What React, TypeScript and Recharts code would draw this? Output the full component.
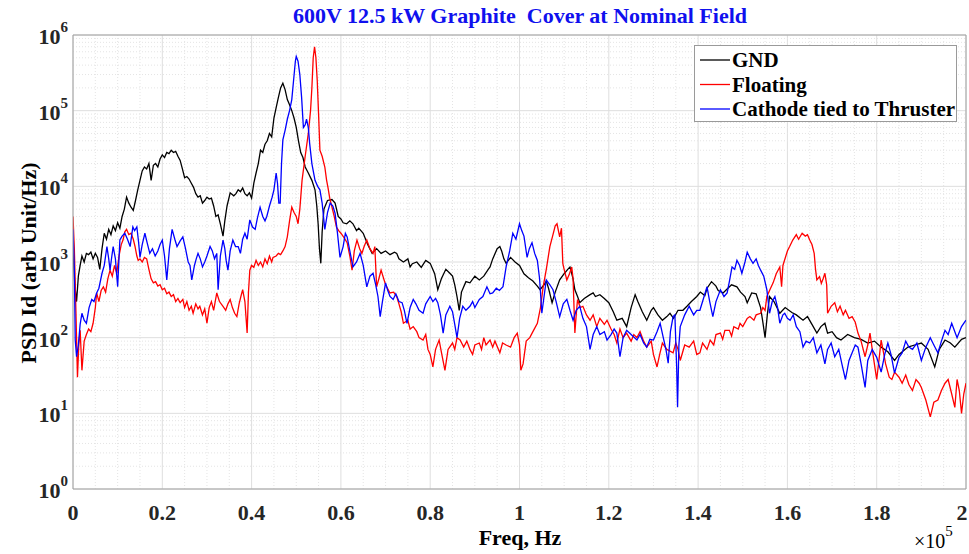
import {
  LineChart,
  Line,
  XAxis,
  YAxis,
  CartesianGrid,
  ReferenceLine,
  Legend,
} from "recharts";

// freq in units of 1e5 Hz, PSD in arb units
const gnd: [number, number][] = [
  [0, 1500], [0.004, 500], [0.008, 300], [0.012, 650], [0.016, 900], [0.02, 1200], [0.025, 1000], [0.03, 1300],
  [0.035, 1250], [0.04, 1350], [0.045, 1100], [0.05, 1300], [0.055, 1150], [0.06, 800], [0.065, 1500], [0.07, 2400],
  [0.075, 2000], [0.08, 2700], [0.085, 2300], [0.09, 3000], [0.095, 2600], [0.1, 3300], [0.105, 2800], [0.11, 4000],
  [0.115, 5000], [0.12, 7200], [0.125, 6000], [0.13, 5300], [0.135, 4800], [0.14, 6500], [0.145, 9000], [0.15, 12000],
  [0.155, 16000], [0.16, 18000], [0.165, 17000], [0.17, 20000], [0.175, 12000], [0.18, 19000], [0.185, 20000],
  [0.19, 18000], [0.195, 23000], [0.2, 26000], [0.205, 24000], [0.21, 28000], [0.215, 27000], [0.22, 30000],
  [0.225, 28000], [0.23, 29000], [0.235, 25000], [0.24, 22000], [0.245, 17000], [0.25, 13000], [0.255, 13500],
  [0.26, 12500], [0.265, 11000], [0.27, 9700], [0.275, 8000], [0.28, 7200], [0.285, 7500], [0.29, 6000], [0.295, 6500],
  [0.3, 7200], [0.305, 6800], [0.31, 7000], [0.315, 5500], [0.32, 4000], [0.325, 4200], [0.33, 3200], [0.336, 2200],
  [0.34, 3500], [0.345, 5500], [0.352, 8200], [0.36, 7500], [0.365, 8000], [0.37, 9000], [0.375, 8500], [0.38, 9500],
  [0.385, 8000], [0.39, 7500], [0.395, 8200], [0.4, 7000], [0.405, 11000], [0.41, 15000], [0.415, 20000],
  [0.42, 30000], [0.425, 28000], [0.43, 36000], [0.435, 40000], [0.44, 50000], [0.445, 45000], [0.45, 80000],
  [0.455, 110000], [0.46, 150000], [0.465, 200000], [0.47, 230000], [0.475, 190000], [0.48, 140000], [0.485, 120000],
  [0.49, 100000], [0.495, 80000], [0.5, 60000], [0.505, 40000], [0.51, 28000], [0.515, 24000], [0.52, 18000],
  [0.527, 15000], [0.535, 12000], [0.542, 9000], [0.546, 5500], [0.549, 3200], [0.552, 1500], [0.555, 960],
  [0.558, 2500], [0.562, 5000], [0.57, 6500], [0.58, 6700], [0.587, 6000], [0.594, 4000], [0.6, 3700], [0.605, 3300],
  [0.613, 3200], [0.62, 3500], [0.627, 3200], [0.635, 2600], [0.64, 2800], [0.65, 2400], [0.66, 1700], [0.67, 1300],
  [0.68, 1500], [0.69, 1300], [0.7, 1400], [0.71, 1250], [0.72, 1350], [0.725, 1300], [0.73, 1100], [0.74, 1000],
  [0.75, 1100], [0.755, 860], [0.76, 950], [0.77, 1000], [0.78, 850], [0.79, 1050], [0.8, 960], [0.81, 700],
  [0.817, 430], [0.825, 600], [0.835, 800], [0.844, 710], [0.85, 650], [0.855, 500], [0.86, 350], [0.865, 230],
  [0.87, 400], [0.88, 550], [0.889, 530], [0.9, 650], [0.91, 580], [0.92, 650], [0.93, 800], [0.934, 860],
  [0.94, 1100], [0.95, 1500], [0.956, 1600], [0.96, 1400], [0.965, 1100], [0.97, 960], [0.98, 1150], [0.99, 1000],
  [1.0, 900], [1.01, 700], [1.02, 620], [1.03, 560], [1.04, 480], [1.046, 430], [1.055, 500], [1.06, 560],
  [1.065, 450], [1.073, 290], [1.08, 400], [1.09, 580], [1.1, 700], [1.108, 800], [1.113, 860], [1.12, 600],
  [1.124, 430], [1.13, 350], [1.135, 290], [1.145, 330], [1.158, 370], [1.165, 390], [1.17, 350], [1.18, 370],
  [1.19, 330], [1.2, 290], [1.21, 220], [1.218, 170], [1.23, 180], [1.24, 140], [1.25, 250], [1.259, 370],
  [1.265, 300], [1.275, 220], [1.285, 170], [1.295, 230], [1.3, 250], [1.31, 200], [1.32, 170], [1.33, 190],
  [1.337, 210], [1.345, 180], [1.355, 230], [1.366, 230], [1.375, 260], [1.385, 300], [1.397, 350], [1.405, 400],
  [1.415, 360], [1.42, 450], [1.43, 550], [1.44, 480], [1.445, 420], [1.456, 390], [1.465, 440], [1.475, 500],
  [1.487, 470], [1.495, 400], [1.505, 350], [1.51, 290], [1.52, 390], [1.53, 380], [1.54, 250], [1.545, 160],
  [1.55, 100], [1.555, 200], [1.56, 350], [1.57, 300], [1.583, 210], [1.595, 250], [1.61, 215], [1.62, 200],
  [1.635, 170], [1.645, 190], [1.655, 150], [1.666, 115], [1.675, 140], [1.684, 155], [1.69, 115], [1.7, 120],
  [1.71, 100], [1.72, 93], [1.735, 110], [1.75, 100], [1.765, 95], [1.78, 85], [1.795, 90], [1.81, 75], [1.825, 65],
  [1.84, 50], [1.85, 60], [1.87, 75], [1.885, 80], [1.9, 85], [1.915, 70], [1.93, 41], [1.94, 70], [1.953, 93],
  [1.965, 85], [1.975, 75], [1.99, 95], [2.0, 100],
];

const floating: [number, number][] = [
  [0, 4000], [0.003, 1500], [0.006, 300], [0.01, 30], [0.013, 80], [0.016, 125], [0.02, 37], [0.025, 90], [0.03, 110],
  [0.035, 130], [0.04, 120], [0.045, 155], [0.05, 250], [0.053, 390], [0.058, 300], [0.063, 420], [0.068, 470],
  [0.073, 400], [0.078, 600], [0.083, 780], [0.088, 650], [0.093, 900], [0.098, 710], [0.103, 1200], [0.108, 1700],
  [0.112, 1950], [0.116, 2500], [0.12, 2700], [0.125, 2300], [0.13, 2400], [0.135, 2000], [0.139, 1600],
  [0.143, 1200], [0.146, 1050], [0.15, 1100], [0.155, 1000], [0.16, 1150], [0.165, 1100], [0.17, 800], [0.175, 600],
  [0.18, 530], [0.185, 550], [0.19, 480], [0.195, 500], [0.2, 430], [0.205, 450], [0.21, 380], [0.215, 400],
  [0.22, 350], [0.225, 370], [0.23, 300], [0.235, 330], [0.24, 290], [0.246, 320], [0.25, 250], [0.255, 300],
  [0.26, 230], [0.265, 260], [0.269, 210], [0.275, 280], [0.28, 240], [0.284, 260], [0.29, 200], [0.295, 240],
  [0.3, 155], [0.305, 250], [0.31, 300], [0.315, 230], [0.322, 390], [0.328, 300], [0.336, 260], [0.342, 230],
  [0.347, 280], [0.352, 320], [0.357, 250], [0.362, 210], [0.367, 190], [0.372, 280], [0.376, 350], [0.38, 430],
  [0.385, 300], [0.39, 115], [0.393, 400], [0.396, 780], [0.4, 900], [0.405, 850], [0.41, 1050], [0.415, 900],
  [0.42, 1000], [0.425, 860], [0.43, 1100], [0.435, 950], [0.44, 1200], [0.445, 1000], [0.448, 1150], [0.455, 1200],
  [0.46, 1300], [0.465, 1250], [0.47, 1400], [0.475, 1600], [0.48, 2150], [0.485, 3500], [0.49, 5300], [0.495, 4500],
  [0.5, 4000], [0.504, 3200], [0.508, 5000], [0.513, 12000], [0.52, 25000], [0.527, 50000], [0.532, 100000],
  [0.535, 200000], [0.538, 500000], [0.541, 700000], [0.544, 500000], [0.547, 250000], [0.55, 90000], [0.553, 30000],
  [0.558, 25000], [0.564, 18000], [0.568, 12000], [0.571, 9700], [0.575, 7000], [0.58, 5300], [0.585, 4000],
  [0.59, 2900], [0.595, 2600], [0.6, 2400], [0.607, 2100], [0.614, 1800], [0.62, 1200], [0.625, 780], [0.63, 1400],
  [0.636, 1950], [0.642, 1500], [0.647, 1300], [0.652, 1600], [0.658, 1950], [0.665, 1500], [0.672, 1300],
  [0.676, 1600], [0.68, 470], [0.685, 600], [0.69, 780], [0.7, 500], [0.71, 390], [0.718, 400], [0.725, 350],
  [0.73, 280], [0.735, 220], [0.74, 155], [0.75, 170], [0.755, 130], [0.762, 140], [0.77, 120], [0.775, 100],
  [0.784, 93], [0.79, 110], [0.795, 70], [0.8, 60], [0.806, 41], [0.812, 70], [0.82, 93], [0.826, 60], [0.833, 37],
  [0.84, 70], [0.85, 85], [0.855, 70], [0.86, 100], [0.867, 93], [0.875, 75], [0.882, 90], [0.889, 70], [0.895, 60],
  [0.9, 80], [0.91, 85], [0.915, 70], [0.92, 100], [0.925, 80], [0.934, 93], [0.94, 75], [0.945, 90], [0.956, 63],
  [0.962, 85], [0.97, 80], [0.98, 75], [0.988, 100], [0.995, 115], [1.0, 80], [1.003, 37], [1.008, 45], [1.015, 90],
  [1.023, 100], [1.03, 120], [1.04, 155], [1.047, 250], [1.053, 470], [1.06, 800], [1.068, 1600], [1.075, 2300],
  [1.08, 3000], [1.084, 3200], [1.09, 2150], [1.094, 2800], [1.097, 960], [1.1, 800], [1.106, 580], [1.112, 700],
  [1.117, 860], [1.12, 600], [1.124, 115], [1.127, 200], [1.13, 320], [1.136, 250], [1.142, 260], [1.15, 200],
  [1.158, 170], [1.165, 200], [1.173, 140], [1.18, 180], [1.19, 150], [1.196, 170], [1.205, 130], [1.212, 110],
  [1.218, 85], [1.225, 130], [1.232, 100], [1.24, 115], [1.25, 90], [1.256, 110], [1.263, 100], [1.27, 120],
  [1.278, 90], [1.285, 75], [1.295, 90], [1.3, 60], [1.308, 41], [1.314, 60], [1.32, 85], [1.33, 70], [1.344, 63],
  [1.35, 85], [1.355, 70], [1.36, 50], [1.37, 80], [1.38, 75], [1.39, 90], [1.397, 60], [1.404, 63], [1.41, 85],
  [1.42, 70], [1.427, 93], [1.435, 80], [1.44, 110], [1.45, 115], [1.455, 95], [1.46, 125], [1.47, 125],
  [1.475, 105], [1.48, 140], [1.49, 130], [1.494, 155], [1.5, 140], [1.51, 180], [1.516, 190], [1.525, 170],
  [1.53, 200], [1.54, 210], [1.545, 250], [1.55, 230], [1.554, 350], [1.56, 420], [1.568, 530], [1.575, 700],
  [1.583, 860], [1.587, 470], [1.59, 900], [1.6, 1400], [1.605, 1600], [1.612, 1950], [1.62, 2300], [1.625, 2000],
  [1.633, 2400], [1.64, 2200], [1.645, 2300], [1.65, 1950], [1.655, 1700], [1.66, 1300], [1.663, 800], [1.666, 580],
  [1.672, 640], [1.676, 520], [1.68, 600], [1.684, 710], [1.688, 500], [1.69, 210], [1.698, 260], [1.706, 290],
  [1.712, 220], [1.718, 260], [1.725, 200], [1.73, 230], [1.738, 180], [1.745, 190], [1.752, 160], [1.758, 115],
  [1.765, 90], [1.774, 56], [1.78, 80], [1.785, 115], [1.79, 70], [1.8, 28], [1.805, 50], [1.81, 93], [1.82, 45],
  [1.828, 30], [1.834, 28], [1.84, 35], [1.85, 30], [1.857, 25], [1.865, 32], [1.872, 24], [1.88, 20], [1.888, 28],
  [1.895, 25], [1.9, 22], [1.91, 15], [1.92, 9], [1.928, 14], [1.937, 15], [1.945, 20], [1.953, 25], [1.96, 28],
  [1.968, 18], [1.975, 12], [1.98, 28], [1.985, 20], [1.99, 10], [1.995, 18], [2.0, 25],
];

const cathode: [number, number][] = [
  [0, 2700], [0.003, 800], [0.005, 93], [0.008, 56], [0.012, 80], [0.016, 150], [0.02, 210], [0.025, 170],
  [0.03, 155], [0.036, 250], [0.042, 320], [0.047, 300], [0.053, 390], [0.058, 450], [0.065, 710], [0.07, 900],
  [0.076, 1600], [0.08, 1100], [0.083, 780], [0.087, 1200], [0.09, 1600], [0.095, 1100], [0.1, 470], [0.105, 1950],
  [0.11, 2200], [0.116, 2400], [0.122, 2000], [0.128, 1600], [0.134, 2900], [0.138, 2600], [0.143, 2900],
  [0.147, 1800], [0.15, 1150], [0.155, 1700], [0.161, 2400], [0.166, 1800], [0.172, 1300], [0.178, 1500],
  [0.184, 1200], [0.19, 1400], [0.195, 1700], [0.2, 1950], [0.205, 1200], [0.21, 580], [0.216, 1500], [0.222, 2700],
  [0.228, 2000], [0.233, 1600], [0.24, 1900], [0.246, 2150], [0.252, 1500], [0.258, 1000], [0.262, 900],
  [0.266, 580], [0.272, 900], [0.276, 1100], [0.28, 1300], [0.285, 1100], [0.29, 860], [0.295, 1000], [0.3, 1200],
  [0.307, 1600], [0.312, 1400], [0.317, 1100], [0.322, 1300], [0.325, 430], [0.33, 1200], [0.336, 1950],
  [0.34, 1500], [0.343, 1050], [0.347, 780], [0.352, 1400], [0.358, 1950], [0.364, 1600], [0.37, 1600],
  [0.375, 1300], [0.38, 2000], [0.385, 2400], [0.39, 2000], [0.396, 3600], [0.402, 2900], [0.408, 2700],
  [0.413, 3800], [0.419, 5300], [0.425, 4000], [0.43, 3500], [0.434, 4000], [0.44, 5500], [0.446, 7200],
  [0.45, 9000], [0.455, 15000], [0.458, 11000], [0.461, 6000], [0.464, 6000], [0.467, 20000], [0.47, 41000],
  [0.475, 55000], [0.48, 77000], [0.485, 100000], [0.49, 140000], [0.494, 250000], [0.498, 450000], [0.5, 520000],
  [0.504, 450000], [0.508, 300000], [0.512, 150000], [0.516, 60000], [0.52, 65000], [0.523, 77000], [0.527, 60000],
  [0.53, 37000], [0.535, 20000], [0.542, 12000], [0.548, 10000], [0.553, 9000], [0.558, 6000], [0.564, 2700],
  [0.57, 4500], [0.576, 6000], [0.582, 5500], [0.587, 4400], [0.592, 2500], [0.598, 1150], [0.605, 1600],
  [0.61, 2400], [0.614, 2150], [0.62, 1400], [0.627, 860], [0.635, 1000], [0.643, 1300], [0.65, 900], [0.658, 470],
  [0.665, 650], [0.672, 710], [0.678, 500], [0.683, 350], [0.688, 190], [0.693, 300], [0.7, 530], [0.705, 420],
  [0.71, 350], [0.717, 320], [0.723, 380], [0.73, 300], [0.737, 290], [0.742, 230], [0.748, 155], [0.755, 250],
  [0.762, 320], [0.768, 280], [0.775, 230], [0.784, 210], [0.79, 280], [0.8, 350], [0.806, 300], [0.812, 330],
  [0.817, 290], [0.823, 200], [0.829, 115], [0.835, 200], [0.844, 260], [0.85, 220], [0.855, 150], [0.86, 100],
  [0.866, 180], [0.873, 260], [0.88, 230], [0.889, 260], [0.895, 300], [0.9, 250], [0.91, 320], [0.918, 350],
  [0.927, 470], [0.934, 380], [0.94, 390], [0.948, 450], [0.955, 420], [0.963, 470], [0.97, 860], [0.978, 1400],
  [0.985, 2400], [0.992, 2000], [1.0, 3200], [1.005, 2600], [1.01, 2200], [1.017, 1150], [1.022, 1500],
  [1.028, 1800], [1.034, 1300], [1.04, 1050], [1.045, 600], [1.05, 210], [1.055, 350], [1.06, 580], [1.068, 500],
  [1.075, 430], [1.082, 300], [1.09, 190], [1.098, 280], [1.106, 320], [1.113, 230], [1.12, 170], [1.127, 230],
  [1.135, 260], [1.142, 180], [1.15, 140], [1.158, 70], [1.165, 110], [1.173, 140], [1.18, 110], [1.19, 120],
  [1.196, 93], [1.205, 110], [1.212, 130], [1.218, 115], [1.225, 56], [1.232, 100], [1.24, 125], [1.25, 110],
  [1.263, 93], [1.27, 110], [1.278, 85], [1.285, 75], [1.292, 95], [1.3, 93], [1.308, 120], [1.315, 155],
  [1.322, 100], [1.328, 70], [1.333, 46], [1.338, 120], [1.344, 190], [1.348, 200], [1.352, 40], [1.354, 12],
  [1.357, 80], [1.36, 140], [1.37, 200], [1.38, 260], [1.39, 200], [1.397, 230], [1.404, 230], [1.41, 300],
  [1.42, 470], [1.426, 300], [1.433, 190], [1.44, 300], [1.45, 430], [1.458, 350], [1.465, 390], [1.47, 550],
  [1.476, 860], [1.482, 800], [1.487, 1050], [1.493, 900], [1.498, 710], [1.505, 1000], [1.51, 1350],
  [1.517, 1100], [1.523, 960], [1.53, 1100], [1.535, 900], [1.54, 780], [1.547, 650], [1.554, 430], [1.56, 210],
  [1.566, 300], [1.572, 350], [1.578, 250], [1.583, 155], [1.59, 200], [1.594, 210], [1.6, 180], [1.606, 170],
  [1.613, 200], [1.62, 140], [1.628, 120], [1.635, 75], [1.642, 90], [1.65, 85], [1.658, 100], [1.666, 63],
  [1.675, 80], [1.684, 45], [1.69, 70], [1.698, 85], [1.706, 56], [1.715, 70], [1.722, 45], [1.73, 28], [1.738, 50],
  [1.745, 63], [1.752, 80], [1.758, 75], [1.765, 45], [1.774, 22], [1.78, 50], [1.79, 70], [1.8, 55], [1.81, 35],
  [1.818, 60], [1.825, 85], [1.832, 60], [1.84, 34], [1.85, 55], [1.857, 63], [1.865, 90], [1.872, 75], [1.88, 70],
  [1.89, 85], [1.9, 50], [1.91, 75], [1.92, 100], [1.928, 80], [1.937, 63], [1.945, 90], [1.953, 125], [1.96, 110],
  [1.968, 155], [1.975, 120], [1.98, 100], [1.99, 140], [2.0, 170],
];

const xTicks = [0, 0.2, 0.4, 0.6, 0.8, 1, 1.2, 1.4, 1.6, 1.8, 2];
const xMinor = [0.05, 0.1, 0.15, 0.25, 0.3, 0.35, 0.45, 0.5, 0.55, 0.65, 0.7, 0.75, 0.85, 0.9, 0.95,
  1.05, 1.1, 1.15, 1.25, 1.3, 1.35, 1.45, 1.5, 1.55, 1.65, 1.7, 1.75, 1.85, 1.9, 1.95];
const yTicks = [1, 10, 100, 1000, 10000, 100000, 1000000];
const minorMult = [2, 3, 4, 5, 6, 7, 8, 9];

const series = [
  { name: "GND", color: "#000000", points: gnd },
  { name: "Floating", color: "#ff0000", points: floating },
  { name: "Cathode tied to Thruster", color: "#0000ff", points: cathode },
];

const yMinor = yTicks.slice(0, -1).flatMap((d) => minorMult.map((m) => m * d));

const FONT = "'Liberation Serif', 'Times New Roman', serif";
const AXIS = "#a0a0a0";

function PowerTick({ x, y, payload }: any) {
  const exp = Math.round(Math.log10(payload.value));
  return (
    <text x={x} y={y + 9} textAnchor="end" fontFamily={FONT} fontWeight="bold" fontSize={22} fill="#262626">
      10
      <tspan dy={-12} fontSize={15}>{exp}</tspan>
    </text>
  );
}

// keeps the last label ("2") inside the page edge
function FreqTick({ x, y, payload }: any) {
  const cx = Math.min(x, 962);
  return (
    <text x={cx} y={y + 16} textAnchor="middle" fontFamily={FONT} fontWeight="bold" fontSize={22} fill="#262626">
      {String(payload.value)}
    </text>
  );
}

function LegendBox() {
  return (
    <div style={{ width: 263, height: 77, border: "1px solid #9a9a9a", background: "#fff", boxSizing: "border-box" }}>
      <svg width={261} height={75}>
        {series.map((s, i) => (
          <g key={s.name}>
            <line x1={5} x2={35} y1={14 + i * 24.5} y2={14 + i * 24.5} stroke={s.color} strokeWidth={1.3} />
            <text x={37} y={21 + i * 24.5} fontFamily={FONT} fontWeight="bold" fontSize={21} fill="#000">
              {s.name}
            </text>
          </g>
        ))}
      </svg>
    </div>
  );
}

export default function App() {
  return (
    <div style={{ position: "absolute", left: 0, top: 0, width: 969, height: 554, background: "#fff" }}>
      <LineChart width={969} height={554} margin={{ top: 35, right: 3, bottom: 0, left: 0 }}>
        <CartesianGrid stroke="#dedede" strokeWidth={1} />
        {yMinor.map((v) => (
          <ReferenceLine key={"ym" + v} y={v} stroke="#e4e4e4" strokeDasharray="1 2" />
        ))}
        {xMinor.map((v) => (
          <ReferenceLine key={"xm" + v} x={v} stroke="#e4e4e4" strokeDasharray="1 2" />
        ))}
        <ReferenceLine y={1000000} stroke={AXIS} />
        <ReferenceLine x={2} stroke={AXIS} />
        <XAxis
          type="number"
          dataKey="f"
          domain={[0, 2]}
          ticks={xTicks}
          interval={0}
          height={65}
          tickLine={false}
          tickSize={0}
          tickMargin={15}
          axisLine={{ stroke: AXIS }}
          tick={<FreqTick />}
          allowDataOverflow
        />
        <YAxis
          scale="log"
          domain={[1, 1000000]}
          ticks={yTicks}
          interval={0}
          width={73}
          tickLine={false}
          tickSize={0}
          tickMargin={5}
          axisLine={{ stroke: AXIS }}
          tick={<PowerTick />}
          allowDataOverflow
        />
        <Legend
          verticalAlign="middle"
          align="center"
          content={<LegendBox />}
          wrapperStyle={{ position: "absolute", left: 694, top: 45, width: 263, height: 77 }}
        />
        {series.map((s) => (
          <Line
            key={s.name}
            name={s.name}
            data={s.points.map(([f, psd]) => ({ f, psd }))}
            dataKey="psd"
            type="linear"
            stroke={s.color}
            strokeWidth={1.3}
            dot={false}
            activeDot={false}
            isAnimationActive={false}
          />
        ))}
      </LineChart>
      <svg
        width={969}
        height={554}
        style={{ position: "absolute", left: 0, top: 0, pointerEvents: "none" }}
      >
        <text x={520} y={23} textAnchor="middle" fontFamily={FONT} fontWeight="bold" fontSize={22} fill="#1010ee" style={{ whiteSpace: "pre" }}>
          600V 12.5 kW Graphite  Cover at Nominal Field
        </text>
        <text
          transform="translate(36,263) rotate(-90)"
          textAnchor="middle"
          fontFamily={FONT}
          fontWeight="bold"
          fontSize={22}
          fill="#000"
        >
          PSD Id (arb Unit/Hz)
        </text>
        <text x={520} y={545} textAnchor="middle" fontFamily={FONT} fontWeight="bold" fontSize={22} fill="#000">
          Freq, Hz
        </text>
        <text x={914} y={548} fontFamily={FONT} fontSize={20} fill="#000">
          ×10
          <tspan dy={-12} fontSize={15}>5</tspan>
        </text>
      </svg>
    </div>
  );
}
